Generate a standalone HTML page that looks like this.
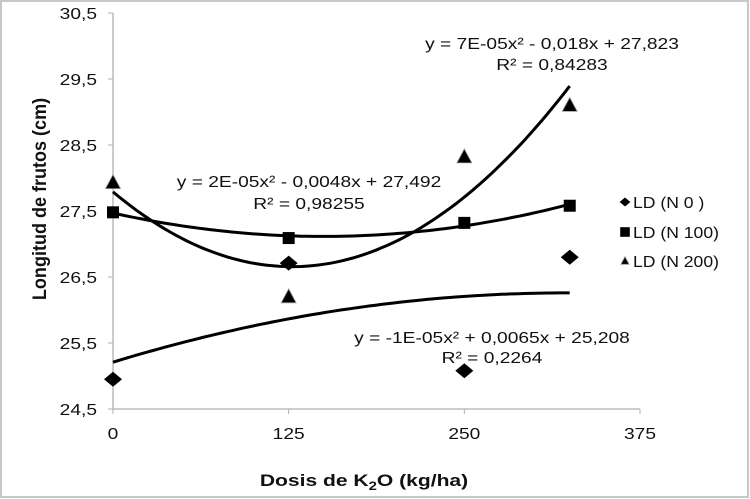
<!DOCTYPE html>
<html><head><meta charset="utf-8"><style>
html,body{margin:0;padding:0;background:#fff}
svg{display:block;font-family:"Liberation Sans",Arial,sans-serif}
</style></head><body>
<svg id="chart" width="750" height="499" viewBox="0 0 750 499" xmlns="http://www.w3.org/2000/svg">
<rect x="1" y="1" width="747" height="496" fill="#fff" stroke="#c8c8c8" stroke-width="2"/>
<g id="axes"></g><g id="lines"></g><g id="marks"></g><g id="labels"></g>
</svg>
<script>
const xCats = [0, 125, 250, 325];
const seriesN0 = [24.95, 26.71, 25.08, 26.80];
const seriesN100 = [27.48, 27.09, 27.32, 27.58];
const seriesN200 = [27.93, 26.20, 28.32, 29.10];
const xTicks = [0, 125, 250, 375];
const yTicks = [24.5, 25.5, 26.5, 27.5, 28.5, 29.5, 30.5];
const yTickLabels = ["24,5","25,5","26,5","27,5","28,5","29,5","30,5"];
const seriesNames = ["LD (N 0 )", "LD (N 100)", "LD (N 200)"];
const eqLabels = [
  ["y = -1E-05x² + 0,0065x + 25,208", "R² = 0,2264"],
  ["y = 2E-05x² - 0,0048x + 27,492", "R² = 0,98255"],
  ["y = 7E-05x² - 0,018x + 27,823", "R² = 0,84283"]
];

const NS="http://www.w3.org/2000/svg";
const X0=113, X1=640, Y0=409, Y1=13;
const xS=v=>X0+(v-0)/(375-0)*(X1-X0);
const yS=v=>Y0-(v-24.5)/(30.5-24.5)*(Y0-Y1);
function mk(tag,attrs,parent,text){const e=document.createElementNS(NS,tag);for(const k in attrs)e.setAttribute(k,attrs[k]);if(text!==undefined)e.textContent=text;document.getElementById(parent).appendChild(e);return e;}
function txt(x,y,s,anchor,size,sx,parent,bold){
  const a={x:0,y:0,'text-anchor':anchor,'font-size':size,fill:'#111',transform:`translate(${x} ${y}) scale(${sx} 1)`};
  if(bold)a['font-weight']='bold';
  return mk('text',a,parent,s);
}

// axes
let e=mk('line',{x1:X0,y1:Y1,x2:X0,y2:Y0,stroke:'#b0b0b0','stroke-width':1.3},'axes');


e=mk('line',{x1:X0,y1:Y0,x2:X1,y2:Y0,stroke:'#b0b0b0','stroke-width':1.3},'axes');


yTicks.forEach((t,i)=>{
  mk('line',{x1:X0-5,y1:yS(t),x2:X0,y2:yS(t),stroke:'#b0b0b0'},'axes');
  const l=txt(97,yS(t)+6,yTickLabels[i],'end',16,1.2,'axes');
  
  
});
xTicks.forEach(t=>{
  mk('line',{x1:xS(t),y1:Y0,x2:xS(t),y2:Y0+5,stroke:'#b0b0b0'},'axes');
  const l=txt(xS(t),439,String(t),'middle',16,1.2,'axes');
  
  
});
e=txt(364,486,'','middle',17,1.24,'labels',true);
e.innerHTML='Dosis de K<tspan font-size="12" dy="4">2</tspan><tspan dy="-4">O (kg/ha)</tspan>';


e=mk('text',{x:0,y:0,'text-anchor':'middle','font-size':17,'font-weight':'bold',fill:'#111',transform:'translate(46,199) rotate(-90) scale(1.06 1.15)'},'labels','Longitud de frutos (cm)');



// quadratic least squares
function fit(xs,ys){
  let n=xs.length,S=[0,0,0,0,0],T=[0,0,0];
  for(let i=0;i<n;i++){const x=xs[i];let p=1;for(let k=0;k<5;k++){S[k]+=p;if(k<3)T[k]+=p*ys[i];p*=x;}}
  const A=[[S[0],S[1],S[2],T[0]],[S[1],S[2],S[3],T[1]],[S[2],S[3],S[4],T[2]]];
  for(let c=0;c<3;c++){for(let r=c+1;r<3;r++){const f=A[r][c]/A[c][c];for(let k=c;k<4;k++)A[r][k]-=f*A[c][k];}}
  const s=[0,0,0];for(let r=2;r>=0;r--){let v=A[r][3];for(let k=r+1;k<3;k++)v-=A[r][k]*s[k];s[r]=v/A[r][r];}
  return s;
}
const allSeries=[seriesN0,seriesN100,seriesN200];
const sNames=['n0','n100','n200'];
allSeries.forEach((ys,si)=>{
  const c=fit(xCats,ys);let d='';
  const xmin=xCats[0],xmax=xCats[xCats.length-1];
  for(let i=0;i<=80;i++){const x=xmin+(xmax-xmin)*i/80;const y=c[0]+c[1]*x+c[2]*x*x;d+=(i?'L':'M')+xS(x).toFixed(1)+' '+yS(y).toFixed(1);}
  const p=mk('path',{d:d,fill:'none',stroke:'#000','stroke-width':3},'lines');
  
  
});
function marker(type,cx,cy,parent,k){
  if(type===0) return mk('path',{d:`M${cx} ${cy-7.5*k}L${cx+9*k} ${cy}L${cx} ${cy+7.5*k}L${cx-9*k} ${cy}Z`,fill:'#000'},parent);
  if(type===1) return mk('rect',{x:cx-6*k,y:cy-6*k,width:12*k,height:12*k,fill:'#000'},parent);
  return mk('path',{d:`M${cx} ${cy-8*k}L${cx+7.5*k} ${cy+6*k}L${cx-7.5*k} ${cy+6*k}Z`,fill:'#000',stroke:'#999','stroke-width':0.8},parent);
}
allSeries.forEach((ys,si)=>{
  ys.forEach((v,i)=>{
    const m=marker(si,xS(xCats[i]),yS(v),'marks',1);
    
    
  });
});
// legend
const legY=[202,232,261];
const legK=[0.6,0.8,0.55];
seriesNames.forEach((nm,i)=>{
  const m=marker(i,625,legY[i],'labels',legK[i]);
  
  
  const t=txt(633,legY[i]+6,nm,'start',16,1.1,'labels');
  
  
});
// equation labels
const eqPos=[[492,337,357],[309,181,203],[552,43,64]];
eqLabels.forEach((lb,i)=>{
  const a=txt(eqPos[i][0],eqPos[i][1]+6,lb[0],'middle',16,1.2,'labels');
  
  
  const b=txt(eqPos[i][0],eqPos[i][2]+6,lb[1],'middle',16,1.2,'labels');
  
  
});
</script>
</body></html>
